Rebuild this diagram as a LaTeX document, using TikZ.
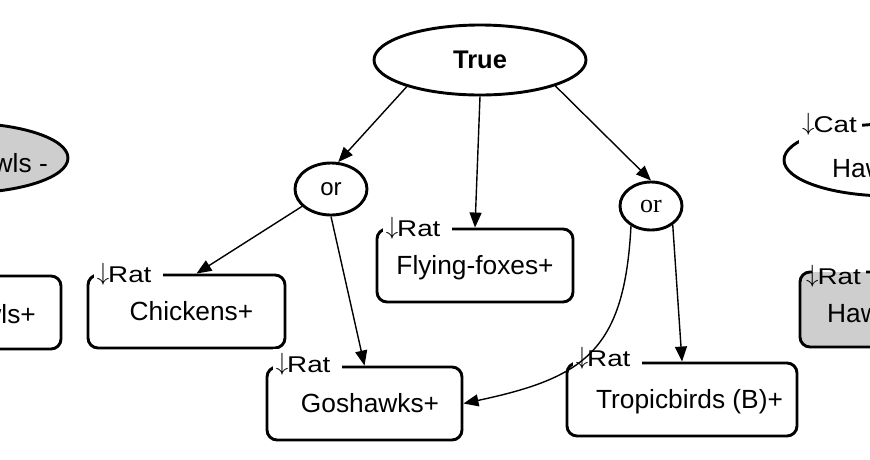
\documentclass[tikz,border=0pt]{standalone}
\usepackage{fontspec}
\setmainfont{Liberation Sans}
\newfontfamily\orserif{Liberation Serif}
\usetikzlibrary{arrows.meta,shapes.geometric}
\definecolor{boxgray}{RGB}{206,206,206}
\newcommand{\dnarr}{\raisebox{2pt}{\fontsize{27}{30}\selectfont$\downarrow$}\kern-1pt}
\newcommand{\wide}[1]{\scalebox{1.22}[1]{#1}}
\tikzset{
  maintext/.style={font=\fontsize{26.3}{30}\selectfont},
  rbox/.style={draw, rectangle, rounded corners=10pt, line width=2.9pt,
    minimum width=#1, minimum height=73pt, inner sep=0pt, fill=white,
    text height=18.7pt, text depth=0pt, font=\fontsize{26.3}{30}\selectfont},
  ell/.style={draw, ellipse, line width=2.9pt, inner sep=0pt, fill=white},
  lbl/.style={fill=white, inner xsep=3pt, inner ysep=4pt, anchor=base west,
    font=\fontsize{22.8}{26}\selectfont},
  arr/.style={-{Triangle[length=15pt,width=12pt]}, line width=1.4pt},
}
\begin{document}
\begin{tikzpicture}[x=1pt,y=-1pt]
\useasboundingbox (0,0) rectangle (870,459);
\clip (0,0) rectangle (870,459);

% partial nodes at the left edge
\node[ell, fill=boxgray, minimum width=212pt, minimum height=70pt] (owlE) at (-38,158) {};
\node[maintext, anchor=base east, inner sep=0pt] (owlEt) at (48,172) {wls -};
\node[rbox=197pt] (owlB) at (-37.5,312.5) {};
\node[maintext, anchor=base east, inner sep=0pt] (owlBt) at (36,323) {wls+};

% partial nodes at the right edge
\node[ell, minimum width=212pt, minimum height=72pt] (hawE) at (890,160) {};
\node[maintext, anchor=base west, inner sep=0pt] (hawEt) at (832,177) {Haw};
\node[lbl, inner ysep=8pt] (lcat) at (799,132) {\dnarr\wide{Cat}\kern2pt};
\node[rectangle, rounded corners=10pt, fill=boxgray, minimum width=196pt,
  minimum height=75pt, inner sep=0pt, outer sep=0pt] (hawB) at (898,309.5) {};
\node[lbl, fill=none] (lhaw) at ([xshift=3pt,yshift=-12pt]hawB.north west) {\dnarr\wide{Rat}\kern2pt};
\draw[line width=2.9pt, rounded corners=10pt] (lhaw.east |- hawB.north) -- (hawB.north east)
  -- (hawB.south east) -- (hawB.south west) -- (hawB.north west) -- ([xshift=12pt]hawB.north west);
\node[maintext, anchor=base west, inner sep=0pt] (hawBt) at (827,322) {Haw};

% main nodes
\node[ell, minimum width=212pt, minimum height=70pt,
  font=\bfseries\fontsize{25.5}{30}\selectfont] (true) at (480,60) {True};
\node[ell, minimum width=72pt, minimum height=52pt,
  font=\fontsize{24}{28}\selectfont] (orL) at (331,189) {or};
\node[ell, minimum width=62pt, minimum height=48pt,
  font=\orserif\fontsize{26}{30}\selectfont] (orR) at (651,206) {or};

\node[rbox=196pt] (ff) at (475,265.5) {Flying-foxes+};
\node[rbox=197pt] (chk) at (186.5,311.5) {\hspace*{10pt}Chickens+};
\node[rbox=195pt] (gos) at (364.5,403.5) {\hspace*{11pt}Goshawks+};
\node[rbox=230pt] (trop) at (682,399.5) {\hspace*{15pt}Tropicbirds (B)+};

\node[lbl] (lff) at ([xshift=7pt,yshift=-9pt]ff.north west) {\dnarr\wide{Rat}\kern9pt};
\node[lbl] (lchk) at ([xshift=7pt,yshift=-9pt]chk.north west) {\dnarr\wide{Rat}\kern9pt};
\node[lbl] (lgos) at ([xshift=7pt,yshift=-7pt]gos.north west) {\dnarr\wide{Rat}\kern9pt};
\node[lbl] (ltrop) at ([xshift=7pt,yshift=-5pt]trop.north west) {\dnarr\wide{Rat}\kern9pt};

% connectors
\draw[arr] (true.200) -- (orL.75);
\draw[arr] (true.south) -- (ff.north);
\draw[arr] (true.341) -- (orR.north);
\draw[arr] (orL.211) -- ([xshift=10pt]chk.north);
\draw[arr] (orL.south) -- (gos.north);
\draw[arr] (orR.225) to[out=-93, in=12, looseness=1.3] (gos.east);
\draw[arr] (orR.319) -- (trop.north);
\end{tikzpicture}
\end{document}
